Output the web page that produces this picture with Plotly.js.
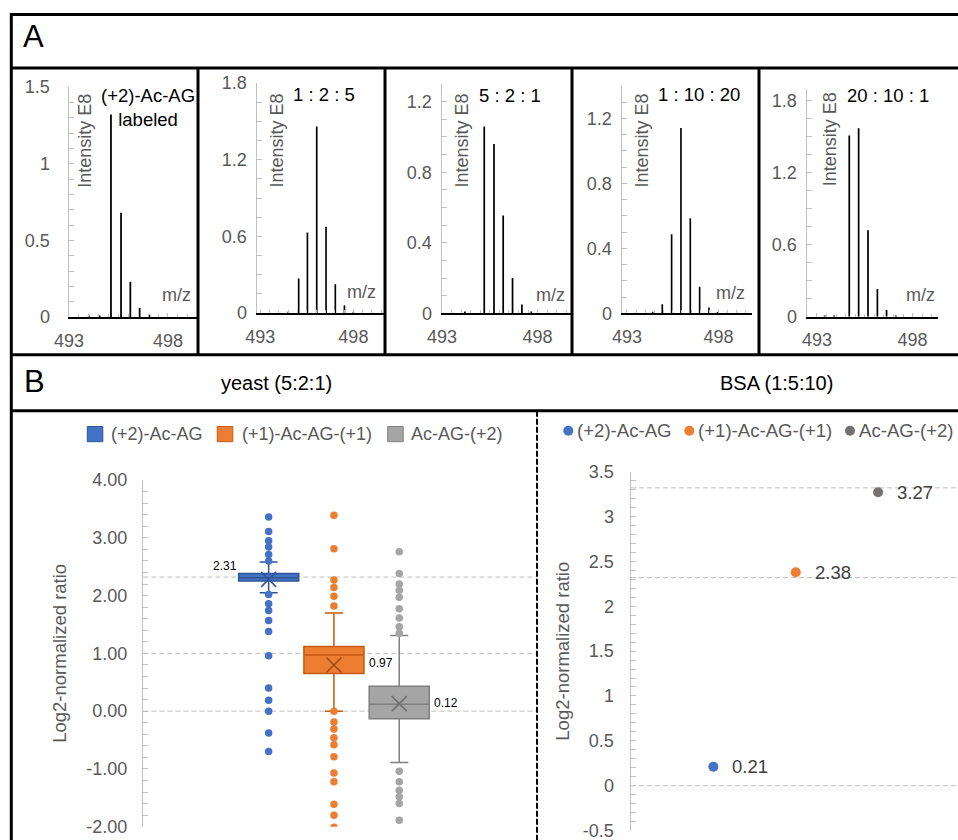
<!DOCTYPE html>
<html><head><meta charset="utf-8">
<script src="https://cdn.plot.ly/plotly-3.0.1.min.js"></script>
<style>html,body{margin:0;padding:0;background:#fff}#chart{width:958px;height:840px}</style>
</head><body><div id="chart"></div>
<script>
// ---------------- DATA ----------------
// Panel A: isotope envelopes (m/z, intensity E8)
const spectrumTitles = ['(+2)-Ac-AG<br>labeled', '1 : 2 : 5', '5 : 2 : 1', '1 : 10 : 20', '20 : 10 : 1'];
const mzLabeled   = [494.0, 494.55, 495.12, 495.63, 496.10, 496.57, 497.06];
const intLabeled  = [0.01, 0.01, 1.32, 0.68, 0.23, 0.06, 0.015];
const mz125       = [494.5, 495.06, 495.53, 496.03, 496.53, 497.03, 497.52, 498.0];
const int125      = [0.01, 0.27, 0.63, 1.46, 0.675, 0.225, 0.06, 0.01];
const mz521       = [494.2, 495.21, 495.72, 496.20, 496.69, 497.18, 497.67];
const int521      = [0.01, 1.06, 0.96, 0.555, 0.20, 0.05, 0.01];
const mz11020     = [494.4, 494.93, 495.44, 495.95, 496.46, 496.97, 497.48, 497.95];
const int11020    = [0.01, 0.055, 0.486, 1.14, 0.585, 0.164, 0.035, 0.008];
const mz20101     = [493.4, 493.9, 494.69, 495.18, 495.67, 496.16, 496.64, 497.13];
const int20101    = [0.01, 0.01, 1.51, 1.57, 0.72, 0.23, 0.055, 0.01];
const xTickVals   = [493, 498];

// Panel B: categories
const categories = ['(+2)-Ac-AG', '(+1)-Ac-AG-(+1)', 'Ac-AG-(+2)'];
// yeast (5:2:1) box statistics
const boxQ1         = [2.25, 0.65, -0.13];
const boxMedian     = [2.31, 0.97, 0.12];
const boxQ3         = [2.38, 1.12, 0.43];
const boxLowerFence = [2.05, 0.00, -0.89];
const boxUpperFence = [2.58, 1.70, 1.31];
const boxMean       = [2.28, 0.80, 0.13];
const outliersBlue   = [3.36, 3.11, 2.95, 2.84, 2.71, 2.60, 2.02, 1.86, 1.74, 1.57, 1.38, 0.96, 0.40, 0.19, 0.00, -0.38, -0.70];
const outliersOrange = [3.39, 2.81, 2.27, 2.14, 1.99, 1.82, 0.00, -0.19, -0.31, -0.46, -0.58, -0.79, -1.07, -1.22, -1.61, -1.80, -2.01];
const outliersGray   = [2.76, 2.38, 2.20, 2.09, 1.97, 1.77, 1.61, 1.46, 1.35, -1.04, -1.22, -1.37, -1.48, -1.60, -1.89];
const expectedYeast = [2.32, 1, 0];
const yeastTickVals = [-2, -1, 0, 1, 2, 3, 4];
// BSA (1:5:10)
const bsaValues   = [0.21, 2.38, 3.27];
const expectedBSA = [3.32, 2.32, 0];
const bsaTickVals = [-0.5, 0, 0.5, 1, 1.5, 2, 2.5, 3, 3.5];

// ---------------- STYLE / GEOMETRY ----------------
const W = 958, H = 840;
const FONT = 'Liberation Sans, Arial, Helvetica, sans-serif';
const TXT = '#595959', AX = '#bfbfbf';
const PX = v => v / W, PY = v => 1 - v / H;
const xd = (a, b) => [Math.max(0, a / W), Math.min(1, b / W)];
const yd = (t, b) => [1 - b / H, 1 - t / H];

const boxFill = ['#4472C4', '#ED7D31', '#A5A5A5'];
const boxLine = ['#2F5597', '#C55A11', '#7F7F7F'];
const meanCol = ['#2F5597', '#9C4A12', '#6F6F6F'];
const dotCol  = ['#4472C4', '#ED7D31', '#767171'];

const spectra = [
  {mz: mzLabeled, y: intLabeled, xdom: [69, 199], xr: [493, 499.57], ydom: [87, 317], yr: [0, 1.5], dt: 0.5, mdt: 0.1, st: 14,
   title: [147.7, 107.5], ylab: [85, 140.8], mzl: [176.7, 295]},
  {mz: mz125, y: int125, xdom: [257, 385], xr: [492.82, 499.7], ydom: [83, 313], yr: [0, 1.8], dt: 0.6, mdt: 0.15, st: 5,
   title: [324, 94.3], ylab: [276.7, 140.8], mzl: [361.7, 291.7]},
  {mz: mz521, y: int521, xdom: [442, 572], xr: [493, 499.8], ydom: [84.1, 313.3], yr: [0, 1.3], dt: 0.4, mdt: 0.1, st: 5,
   title: [510, 95], ylab: [461.7, 140.8], mzl: [550, 295]},
  {mz: mz11020, y: int11020, xdom: [622, 752], xr: [492.73, 499.83], ydom: [85.8, 313.3], yr: [0, 1.4], dt: 0.4, mdt: 0.1, st: 5,
   title: [699, 94.3], ylab: [641.7, 140.8], mzl: [730, 293.3]},
  {mz: mz20101, y: int20101, xdom: [807, 938], xr: [492.48, 499.33], ydom: [88.7, 316.7], yr: [0, 1.9], dt: 0.6, mdt: 0.15, st: 5,
   title: [887.5, 95], ylab: [830.7, 139.5], mzl: [920, 295]}
];

const traces = [];
const layout = {
  width: W, height: H, margin: {l: 0, r: 0, t: 0, b: 0},
  paper_bgcolor: '#fff', plot_bgcolor: 'rgba(0,0,0,0)',
  font: {family: FONT, color: TXT, size: 18},
  showlegend: false, shapes: [], annotations: []
};
const note = (x, y, text, font, extra) => layout.annotations.push(Object.assign({xref: 'paper', yref: 'paper',
  x: PX(x), y: PY(y), text: text, showarrow: false, xanchor: 'center', yanchor: 'middle', font: font}, extra || {}));

// ---- Panel A spectra ----
spectra.forEach((s, i) => {
  const n = i + 1, sx = n === 1 ? '' : n;
  traces.push({type: 'bar', x: s.mz, y: s.y, width: 0.09, marker: {color: '#000', line: {width: 0}},
    xaxis: 'x' + sx, yaxis: 'y' + sx, hoverinfo: 'x+y'});
  layout['xaxis' + sx] = {domain: xd(s.xdom[0], s.xdom[1]), range: s.xr, anchor: 'y' + sx,
    showline: true, linecolor: '#000', linewidth: 2, showgrid: false, zeroline: false,
    tickmode: 'array', tickvals: xTickVals, ticks: 'inside', ticklen: 4, tickcolor: AX,
    minor: {tickmode: 'linear', tick0: 493, dtick: 0.5, ticks: 'inside', ticklen: 3, tickcolor: AX},
    tickfont: {size: 18, color: TXT}, ticklabelstandoff: 6, fixedrange: true};
  layout['yaxis' + sx] = {domain: yd(s.ydom[0], s.ydom[1]), range: s.yr, anchor: 'x' + sx,
    showline: true, linecolor: AX, linewidth: 1.5, showgrid: false, zeroline: false,
    tickmode: 'linear', tick0: 0, dtick: s.dt, ticks: 'inside', ticklen: 5, tickcolor: AX,
    minor: {tickmode: 'linear', tick0: 0, dtick: s.mdt, ticks: 'inside', ticklen: 5, tickcolor: AX},
    tickfont: {size: 18, color: TXT}, ticklabelstandoff: s.st, fixedrange: true};
  note(s.ylab[0], s.ylab[1], 'Intensity E8', {size: 18, color: TXT}, {textangle: -90});
  note(s.title[0], s.title[1], spectrumTitles[i], {size: 18.5, color: '#000'});
  note(s.mzl[0], s.mzl[1], 'm/z', {size: 18, color: TXT});
});

// ---- Panel B left: yeast box plot ----
const outliers = [outliersBlue, outliersOrange, outliersGray];
categories.forEach((c, i) => {
  traces.push({type: 'box', name: c, x: [i + 1], q1: [boxQ1[i]], median: [boxMedian[i]], q3: [boxQ3[i]],
    lowerfence: [boxLowerFence[i]], upperfence: [boxUpperFence[i]],
    boxmean: false, width: 0.92, whiskerwidth: 0.3, boxpoints: false, fillcolor: boxFill[i],
    line: {color: boxLine[i], width: 1.5}, xaxis: 'x6', yaxis: 'y6'});
  traces.push({type: 'scatter', mode: 'markers', name: c + ' outliers', x: outliers[i].map(() => i + 1), y: outliers[i],
    marker: {size: 7.5, color: boxFill[i]}, xaxis: 'x6', yaxis: 'y6'});
});
traces.push({type: 'scatter', mode: 'markers', name: 'mean', x: categories.map((c, i) => i + 1), y: boxMean,
  marker: {symbol: 'x-thin', size: 15, color: meanCol, line: {width: 1.5, color: meanCol}}, xaxis: 'x6', yaxis: 'y6'});

layout.xaxis6 = {domain: xd(143.3, 537), range: [-0.92, 5.11], anchor: 'y6', visible: false, fixedrange: true};
layout.yaxis6 = {domain: yd(480, 826.7), range: [-2, 4], anchor: 'x6',
  showline: true, linecolor: AX, linewidth: 1.5, showgrid: false, zeroline: false,
  tickmode: 'array', tickvals: yeastTickVals, ticktext: yeastTickVals.map(v => v.toFixed(2)),
  ticks: 'inside', ticklen: 5, tickcolor: AX, ticklabeloverflow: 'allow',
  minor: {tickmode: 'linear', tick0: 0, dtick: 0.2, ticks: 'inside', ticklen: 5, tickcolor: AX},
  tickfont: {size: 18, color: TXT}, ticklabelstandoff: 11,
  title: {text: 'Log2-normalized ratio', font: {size: 18.5, color: TXT}, standoff: 14}, fixedrange: true};

expectedYeast.forEach(v => layout.shapes.push({type: 'line', xref: 'x6 domain', yref: 'y6', x0: 0, x1: 1, y0: v, y1: v,
  line: {color: AX, width: 1, dash: '5px,3px'}, layer: 'below'}));
const medShift = [[-43.7, 11.5], [47.5, -8.4], [46.7, 0.8]];
boxMedian.forEach((v, i) => layout.annotations.push({xref: 'x6', yref: 'y6', x: i + 1, y: v, text: v.toFixed(2),
  xanchor: 'center', yanchor: 'middle', xshift: medShift[i][0], yshift: medShift[i][1], showarrow: false,
  font: {size: 12, color: '#000'}}));

// left legend (Excel style squares)
const legL = [[87.3, 109], [217.3, 239.7], [387.7, 408.7]];
categories.forEach((c, i) => {
  layout.shapes.push({type: 'rect', xref: 'paper', yref: 'paper', x0: PX(legL[i][0]), x1: PX(legL[i][0] + 15.5),
    y0: PY(441.7), y1: PY(426.5), fillcolor: boxFill[i], line: {color: boxLine[i], width: 1}});
  note(legL[i][1], 434, c, {size: 18, color: TXT}, {xanchor: 'left'});
});

// ---- Panel B right: BSA ----
traces.push({type: 'scatter', mode: 'markers', name: 'BSA', x: categories.map((c, i) => i + 1), y: bsaValues,
  marker: {size: 10, color: dotCol}, xaxis: 'x7', yaxis: 'y7'});
layout.xaxis7 = {domain: xd(631, 958), range: [0, 3.97], anchor: 'y7', visible: false, fixedrange: true};
layout.yaxis7 = {domain: yd(471.7, 830.7), range: [-0.502, 3.5], anchor: 'x7',
  showline: true, linecolor: AX, linewidth: 1.5, showgrid: false, zeroline: false,
  tickmode: 'array', tickvals: bsaTickVals, ticktext: bsaTickVals.map(v => String(v)),
  ticks: 'inside', ticklen: 5, tickcolor: AX, ticklabeloverflow: 'allow',
  minor: {tickmode: 'linear', tick0: 0, dtick: 0.1, ticks: 'inside', ticklen: 5, tickcolor: AX},
  tickfont: {size: 18, color: TXT}, ticklabelstandoff: 12,
  title: {text: 'Log2-normalized ratio', font: {size: 18.5, color: TXT}, standoff: 8}, fixedrange: true};
expectedBSA.forEach(v => layout.shapes.push({type: 'line', xref: 'x7 domain', yref: 'y7', x0: 0, x1: 1, y0: v, y1: v,
  line: {color: AX, width: 1, dash: '5px,3px'}, layer: 'below'}));
bsaValues.forEach((v, i) => layout.annotations.push({xref: 'x7', yref: 'y7', x: i + 1, y: v, text: v.toFixed(2),
  xanchor: 'left', yanchor: 'middle', xshift: 17, showarrow: false, font: {size: 18.5, color: '#404040'}}));
// right legend (dots)
const legR = [[568.3, 575.3], [689.3, 696.3], [850, 857.3]];
categories.forEach((c, i) => {
  layout.shapes.push({type: 'circle', xref: 'paper', yref: 'paper', x0: PX(legR[i][0] - 5), x1: PX(legR[i][0] + 5),
    y0: PY(435.7), y1: PY(425.7), fillcolor: dotCol[i], line: {width: 0}});
  note(legR[i][1], 430.7, c, {size: 18.6, color: TXT}, {xanchor: 'left'});
});

// ---- Frame lines ----
const frame = (x0, y0, x1, y1, extra) => layout.shapes.push(Object.assign({type: 'line', xref: 'paper', yref: 'paper',
  x0: PX(x0), x1: PX(x1), y0: PY(y0), y1: PY(y1), line: {color: '#000', width: 3}}, extra || {}));
frame(11.3, 14.5, 970, 14.5);
frame(11.3, 13, 11.3, 850);
frame(11.3, 68, 970, 68);
frame(11.3, 354.7, 970, 354.7);
frame(11.3, 410.7, 970, 410.7);
[198, 385, 572, 759].forEach(x => frame(x, 68, x, 354.7));
frame(537, 410.7, 537, 850, {line: {color: '#000', width: 2, dash: '6px,2px'}});

// ---- Panel headings ----
note(33, 37, 'A', {size: 31, color: '#000'});
note(34, 382, 'B', {size: 31, color: '#000'});
note(276.5, 383, 'yeast (5:2:1)', {size: 20, color: '#000'});
note(776, 383, 'BSA (1:5:10)', {size: 20, color: '#000'});

Plotly.newPlot('chart', traces, layout, {staticPlot: true, displayModeBar: false});
</script></body></html>
